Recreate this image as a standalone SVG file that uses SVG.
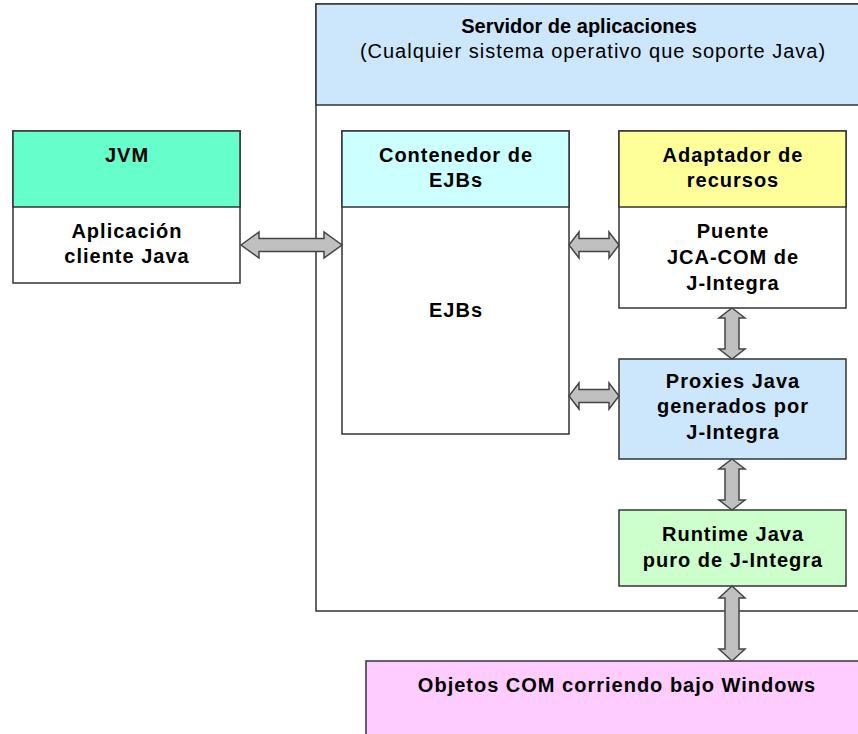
<svg xmlns="http://www.w3.org/2000/svg" width="858" height="734" viewBox="0 0 858 734">
<style>
.box{stroke:#333;stroke-width:1.5}
.t{font-family:"Liberation Sans",Arial,sans-serif;font-size:20px;font-weight:bold;letter-spacing:1px;text-anchor:middle;fill:#000}
.r{font-weight:normal}
.arr{fill:#c0c0c0;stroke:#444;stroke-width:1.5;stroke-linejoin:miter}
</style>
<rect width="858" height="734" fill="#fff"/>
<g id="servidor">
<rect class="box" x="316" y="4" width="560" height="607" fill="#fff"/>
<rect class="box" x="316" y="4" width="560" height="101" fill="#cce6fb"/>
<text class="t" x="579" y="33" style="letter-spacing:0">Servidor de aplicaciones</text>
<text class="t r" x="593" y="58">(Cualquier sistema operativo que soporte Java)</text>
</g>
<g id="jvm">
<rect class="box" x="13" y="131" width="227" height="152" fill="#fff"/>
<rect class="box" x="13" y="131" width="227" height="76" fill="#66ffcc"/>
<text class="t" x="127" y="162">JVM</text>
<text class="t" x="127" y="238">Aplicación</text>
<text class="t" x="127" y="263">cliente Java</text>
</g>
<g id="contenedor">
<rect class="box" x="342" y="131" width="227" height="303" fill="#fff"/>
<rect class="box" x="342" y="131" width="227" height="76" fill="#ccffff"/>
<text class="t" x="456" y="162">Contenedor de</text>
<text class="t" x="456" y="187">EJBs</text>
<text class="t" x="456" y="317">EJBs</text>
</g>
<g id="adaptador">
<rect class="box" x="619" y="131" width="227" height="177" fill="#fff"/>
<rect class="box" x="619" y="131" width="227" height="76" fill="#ffff99"/>
<text class="t" x="733" y="162">Adaptador de</text>
<text class="t" x="733" y="187">recursos</text>
<text class="t" x="733" y="238">Puente</text>
<text class="t" x="733" y="264">JCA-COM de</text>
<text class="t" x="733" y="290">J-Integra</text>
</g>
<g id="proxies">
<rect class="box" x="619" y="359" width="227" height="100" fill="#cce6fb"/>
<text class="t" x="733" y="388">Proxies Java</text>
<text class="t" x="733" y="413">generados por</text>
<text class="t" x="733" y="439">J-Integra</text>
</g>
<g id="runtime">
<rect class="box" x="619" y="510" width="227" height="76" fill="#ccffcc"/>
<text class="t" x="733" y="541">Runtime Java</text>
<text class="t" x="733" y="567">puro de J-Integra</text>
</g>
<g id="objetos">
<rect class="box" x="366" y="661" width="520" height="100" fill="#ffccff"/>
<text class="t" x="617" y="692">Objetos COM corriendo bajo Windows</text>
</g>
<g id="connectors">
<polygon class="arr" points="241,245 259,232 259,238.5 324,238.5 324,232 342,245 324,258 324,251.5 259,251.5 259,258"/>
<polygon class="arr" points="569,245 579,232 579,238.5 609,238.5 609,232 619,245 609,258 609,251.5 579,251.5 579,258"/>
<polygon class="arr" points="569,396 579,383 579,389.5 609,389.5 609,383 619,396 609,409 609,402.5 579,402.5 579,409"/>
<polygon class="arr" points="732,308 745,318 739,318 739,349 745,349 732,359 719,349 725,349 725,318 719,318"/>
<polygon class="arr" points="732,459 745,469 739,469 739,500 745,500 732,510 719,500 725,500 725,469 719,469"/>
<polygon class="arr" points="732,586 745,598 739,598 739,649 745,649 732,661 719,649 725,649 725,598 719,598"/>
</g>
</svg>
